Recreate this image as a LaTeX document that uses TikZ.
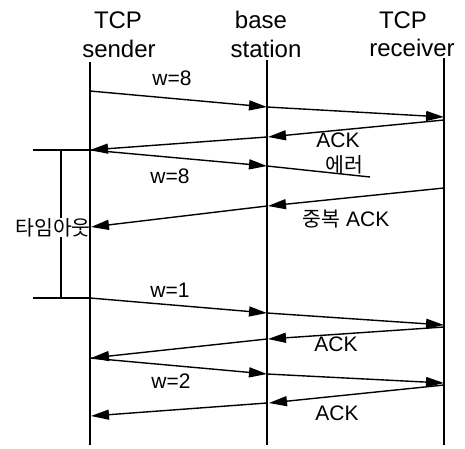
\documentclass[tikz,border=0pt]{standalone}
\usepackage{fontspec}
\setmainfont{Liberation Sans}
\newfontfamily\kr{Noto Sans CJK KR}
\usetikzlibrary{arrows.meta}
\begin{document}
\begin{tikzpicture}[x=1pt,y=-1pt,
  life/.style={line width=1.6pt},
  msg/.style={line width=1.4pt,-{Triangle[length=18pt,width=10pt]}},
  plain/.style={line width=1.4pt},
  head/.style={font=\fontsize{24}{28}\selectfont,anchor=base,inner sep=0pt},
  lbl/.style={font=\fontsize{21}{25}\selectfont,anchor=base,inner sep=0pt},
  krl/.style={font=\kr\fontsize{20.5}{24}\selectfont,anchor=base,inner sep=0pt}]
\useasboundingbox (0,0) rectangle (465,448);
% headers
\node[head] (h1a) at (118,28) {TCP};
\node[head] (h1b) at (119,57) {sender};
\node[head] (h2a) at (261,28) {base};
\node[head] (h2b) at (266,57) {station};
\node[head] (h3a) at (403,28) {TCP};
\node[head] (h3b) at (412,56) {receiver};
% lifelines
\coordinate (sT) at (90,62);  \coordinate (sB) at (90,445);
\coordinate (bT) at (267,60); \coordinate (bB) at (267,445);
\coordinate (rT) at (444,58); \coordinate (rB) at (444,445);
\draw[life] (sT) -- (sB);
\draw[life] (bT) -- (bB);
\draw[life] (rT) -- (rB);
% message points
\coordinate (s1) at (90,91);   \coordinate (b1) at (267,107); \coordinate (r1) at (444,117);
\coordinate (r2) at (444,120); \coordinate (b2) at (268,137); \coordinate (b2s) at (267,137); \coordinate (s2) at (90,150);
\coordinate (b3) at (267,166); \coordinate (e3) at (370,177);
\coordinate (r4) at (444,188); \coordinate (b4) at (268,206); \coordinate (b4s) at (267,206); \coordinate (s4) at (91,227);
\coordinate (s5) at (90,298);  \coordinate (b5) at (267,313); \coordinate (r5) at (444,325);
\coordinate (r6) at (444,327); \coordinate (b6) at (268,339); \coordinate (b6s) at (267,339); \coordinate (s6) at (91,358);
\coordinate (s7) at (90,358);  \coordinate (b7) at (267,374); \coordinate (r7) at (444,383);
\coordinate (r8) at (444,385); \coordinate (b8) at (269,403); \coordinate (b8s) at (267,403); \coordinate (s8) at (91,416);
% messages
\draw[msg] (s1) -- (b1);
\draw[msg] (b1) -- (r1);
\draw[msg] (r2) -- (b2);
\draw[msg] (b2s) -- (s2);
\draw[msg] (s2) -- (b3);
\draw[plain] (b3) -- (e3);
\draw[msg] (r4) -- (b4);
\draw[msg] (b4s) -- (s4);
\draw[msg] (s5) -- (b5);
\draw[msg] (b5) -- (r5);
\draw[msg] (r6) -- (b6);
\draw[msg] (b6s) -- (s6);
\draw[msg] (s7) -- (b7);
\draw[msg] (b7) -- (r7);
\draw[msg] (r8) -- (b8);
\draw[msg] (b8s) -- (s8);
% labels
\node[lbl] (l1) at (172,85) {w=8};
\node[lbl] (l2) at (338,147) {ACK};
\node[krl] (l3) at (344,172) {에러};
\node[lbl] (l4) at (170,183) {w=8};
\node[lbl] (l5) at (346,226) {{\kr\fontsize{20.5}{24}\selectfont 중복} ACK};
\node[lbl] (l6) at (170,297) {w=1};
\node[lbl] (l7) at (336,351) {ACK};
\node[lbl] (l8) at (171,388) {w=2};
\node[lbl] (l9) at (337,420) {ACK};
% timeout bracket
\coordinate (tL1) at (33,150); \coordinate (tR1) at (90,150);
\coordinate (tL2) at (33,298); \coordinate (tR2) at (90,298);
\coordinate (tv1) at (61,150); \coordinate (tv2) at (61,298);
\node[krl] (to) at (53,235) {타임아웃};
\draw[plain] (tL1) -- (tR1);
\draw[plain] (tL2) -- (tR2);
\draw[plain] (tv1) -- (tv1 |- to.north);
\draw[plain] (tv2) -- (tv2 |- to.south);
\end{tikzpicture}
\end{document}
